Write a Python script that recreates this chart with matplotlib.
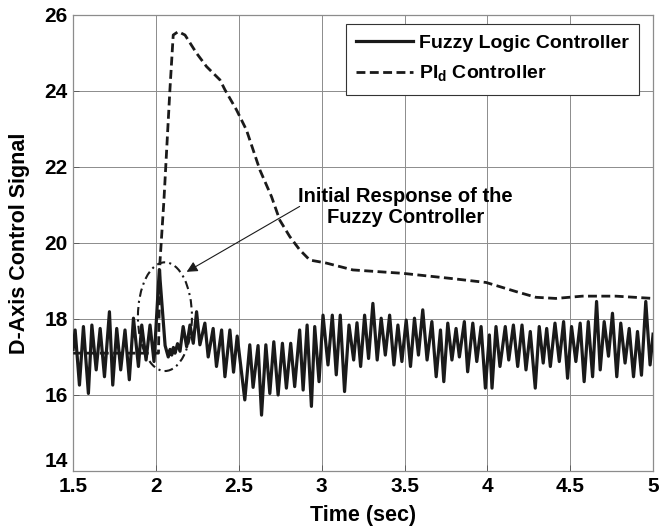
import matplotlib
import numpy as np
import pandas as pd
from matplotlib.patches import Ellipse
from matplotlib.ticker import FormatStrFormatter

matplotlib.use("Agg")
import matplotlib.pyplot as plt

plt.rcParams["font.family"] = ["Liberation Sans", "DejaVu Sans"]
plt.rcParams["font.weight"] = "bold"
plt.rcParams["mathtext.fontset"] = "custom"
plt.rcParams["mathtext.rm"] = "Liberation Sans"
plt.rcParams["mathtext.bf"] = "Liberation Sans:bold"

# fuzzy logic controller, peaks and troughs
fuzzy_time = [
    1.500, 1.512, 1.538, 1.562, 1.592, 1.613, 1.639, 1.663, 1.689, 1.719,
    1.739, 1.763, 1.787, 1.813, 1.839, 1.864, 1.894, 1.914, 1.940, 1.964,
    1.988, 2.020, 2.055, 2.074, 2.085, 2.095, 2.105, 2.115, 2.130, 2.145,
    2.164, 2.185, 2.205, 2.225, 2.245, 2.265, 2.295, 2.315, 2.345, 2.365,
    2.396, 2.416, 2.446, 2.468, 2.490, 2.536, 2.566, 2.586, 2.616, 2.637,
    2.663, 2.687, 2.711, 2.737, 2.763, 2.787, 2.813, 2.837, 2.867, 2.888,
    2.912, 2.938, 2.958, 2.984, 3.008, 3.038, 3.064, 3.088, 3.112, 3.138,
    3.165, 3.193, 3.213, 3.235, 3.259, 3.283, 3.309, 3.335, 3.359, 3.384,
    3.410, 3.436, 3.460, 3.484, 3.510, 3.536, 3.560, 3.584, 3.610, 3.636,
    3.665, 3.691, 3.717, 3.737, 3.761, 3.786, 3.811, 3.831, 3.861, 3.881,
    3.912, 3.936, 3.962, 3.988, 4.012, 4.028, 4.052, 4.076, 4.108, 4.129,
    4.157, 4.183, 4.209, 4.233, 4.259, 4.289, 4.313, 4.337, 4.358, 4.380,
    4.408, 4.434, 4.460, 4.484, 4.508, 4.534, 4.560, 4.584, 4.609, 4.635,
    4.659, 4.681, 4.705, 4.731, 4.755, 4.781, 4.805, 4.831, 4.856, 4.882,
    4.906, 4.930, 4.956, 4.982, 5.000,
]
fuzzy_signal = [
    17.20, 17.71, 16.26, 17.80, 16.04, 17.84, 16.66, 17.75, 16.48, 18.19,
    16.26, 17.75, 16.66, 17.71, 16.40, 18.02, 16.75, 17.84, 16.92, 17.84,
    16.88, 19.30, 17.30, 17.00, 17.20, 17.05, 17.25, 17.10, 17.35, 17.15,
    17.80, 17.27, 17.84, 17.36, 18.19, 17.32, 17.89, 17.00, 17.75, 16.75,
    17.71, 16.48, 17.71, 16.60, 17.55, 15.87, 17.32, 16.20, 17.30, 15.47,
    17.32, 16.04, 17.40, 16.00, 17.36, 16.18, 17.36, 16.22, 17.71, 16.13,
    17.84, 15.70, 17.80, 16.35, 18.10, 16.79, 18.10, 16.53, 18.10, 16.09,
    17.84, 16.92, 17.90, 16.75, 18.10, 16.96, 18.41, 16.92, 18.02, 17.05,
    18.10, 16.79, 17.84, 16.88, 17.97, 16.75, 18.02, 17.05, 18.24, 16.92,
    17.93, 16.48, 17.71, 16.35, 17.89, 16.92, 17.75, 17.00, 17.93, 16.61,
    17.89, 16.88, 17.80, 16.18, 17.58, 16.18, 17.80, 16.75, 17.80, 16.92,
    17.84, 16.75, 17.84, 16.66, 17.67, 16.18, 17.80, 16.84, 17.75, 16.75,
    17.89, 16.88, 17.93, 16.44, 17.80, 16.88, 17.89, 16.35, 17.93, 16.48,
    18.46, 16.66, 17.93, 17.02, 18.15, 16.48, 17.89, 16.84, 17.75, 16.48,
    17.67, 16.52, 18.46, 16.79, 17.60,
]

# PI_d controller
pid_time = [
    1.500, 2.015, 2.024, 2.048, 2.084, 2.104, 2.134, 2.175, 2.245, 2.305,
    2.386, 2.416, 2.486, 2.546, 2.627, 2.697, 2.747, 2.807, 2.867, 2.928,
    3.028, 3.188, 3.490, 3.771, 3.992, 4.173, 4.293, 4.413, 4.574, 4.775,
    5.000,
]
pid_signal = [
    17.10, 17.10, 19.50, 21.13, 24.03, 25.47, 25.56, 25.47, 24.99, 24.64,
    24.29, 24.03, 23.50, 22.97, 21.92, 21.22, 20.60, 20.17, 19.82, 19.55,
    19.47, 19.29, 19.20, 19.07, 18.96, 18.72, 18.57, 18.54, 18.60, 18.60,
    18.54,
]

x_ticks = [1.5, 2, 2.5, 3, 3.5, 4, 4.5, 5]
y_ticks = [14, 16, 18, 20, 22, 24, 26]

fuzzy = pd.DataFrame({"time": fuzzy_time, "signal": fuzzy_signal})
pid = pd.DataFrame({"time": pid_time, "signal": pid_signal})

figure, axis = plt.subplots(figsize=(6.59, 5.31), dpi=100)
figure.subplots_adjust(left=0.111, right=0.991, top=0.972, bottom=0.113)

axis.plot(fuzzy["time"], fuzzy["signal"], color="#1a1a1a", linewidth=2.3,
          label="Fuzzy Logic Controller", zorder=3)
axis.plot(pid["time"], pid["signal"], color="#1a1a1a", linewidth=2.0,
          linestyle=(0, (3.2, 1.6)), label=r"PI$_\mathbf{d}$ Controller", zorder=4)

axis.add_patch(Ellipse((2.054, 18.06), 0.326, 2.86, fill=False, edgecolor="#1a1a1a",
                       linewidth=1.5, linestyle=(0, (4, 2, 1, 2)), zorder=5))
axis.annotate("", xy=(2.185, 19.24), xytext=(2.867, 20.96),
              arrowprops=dict(arrowstyle="-|>", color="#1a1a1a", linewidth=0.8,
                              mutation_scale=16, shrinkA=0, shrinkB=0), zorder=6)
axis.text(3.506, 20.95, "Initial Response of the\nFuzzy Controller", ha="center",
          va="center", fontsize=14.5, fontweight="bold", linespacing=1.15, zorder=6)

axis.set_xlim(1.5, 5)
axis.set_ylim(14, 26)
axis.set_xticks(x_ticks)
axis.set_yticks(y_ticks)
axis.xaxis.set_major_formatter(FormatStrFormatter("%g"))
axis.tick_params(direction="in", length=4, width=0.6, labelsize=15, pad=4,
                 color="#555555")
for label in axis.get_xticklabels() + axis.get_yticklabels():
    label.set_fontweight("bold")
# the lowest y label sits raised above the x labels, as in the source
axis.get_yticklabels()[0].set_verticalalignment("bottom")
axis.grid(True, color="#8c8c8c", linewidth=0.7, linestyle="-")
axis.set_axisbelow(True)
for spine in axis.spines.values():
    spine.set_color("#8c8c8c")
    spine.set_linewidth(0.9)

axis.set_xlabel("Time (sec)", fontsize=15.5, fontweight="bold", labelpad=7)
axis.set_ylabel("D-Axis Control Signal", fontsize=15.5, fontweight="bold", labelpad=10)

legend = axis.legend(loc="upper right", bbox_to_anchor=(0.976, 0.980),
                     borderaxespad=0, fontsize=14, handlelength=2.9,
                     handletextpad=0.3, fancybox=False, framealpha=1,
                     edgecolor="#333333", labelspacing=0.6, borderpad=0.55)
legend.get_frame().set_linewidth(0.8)
for text in legend.get_texts():
    text.set_fontweight("bold")

figure.savefig("out.png", dpi=100)
